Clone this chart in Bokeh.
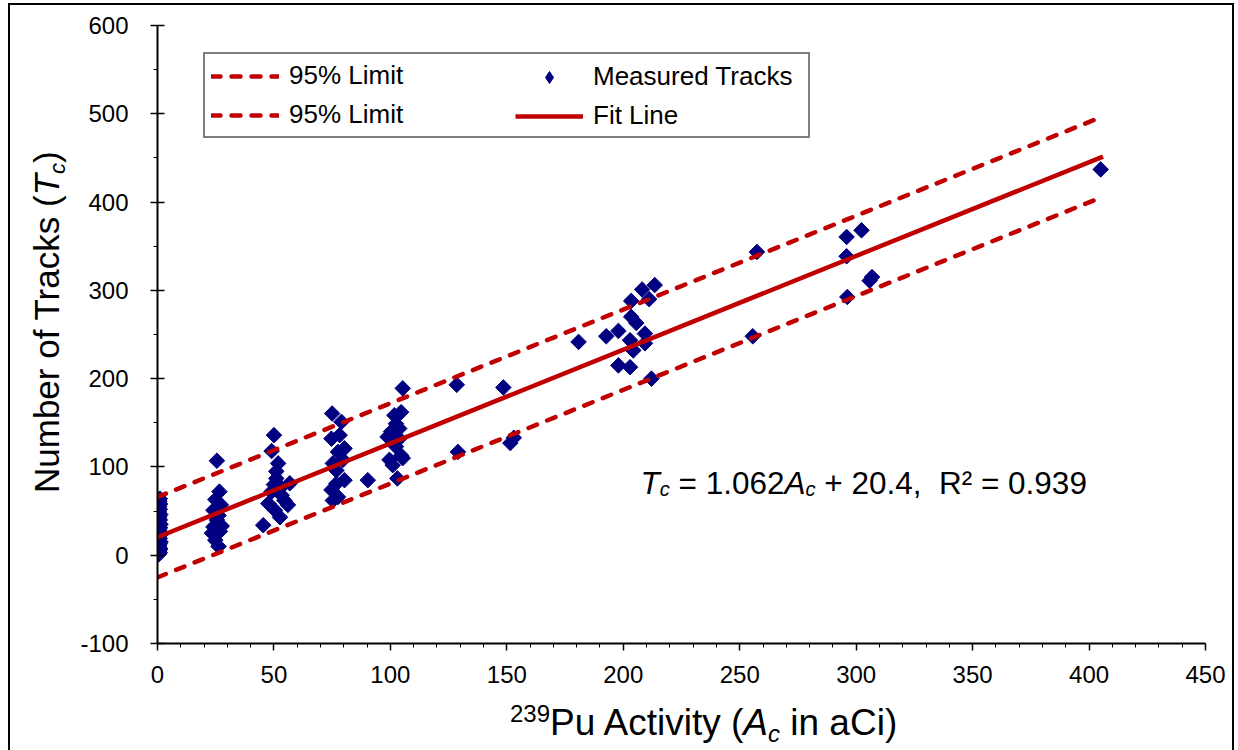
import numpy as np
from bokeh.plotting import figure
from bokeh.layouts import column, row
from bokeh.models import FixedTicker, Label, Legend, LegendItem, Range1d, Div
from bokeh.embed import file_html
from bokeh.resources import INLINE

# ---------------- data ----------------
measured_x = [
    0.5, 1.0, 0.5, 1.2, 0.8, 0.5, 1.0, 1.3, 0.6, 1.0, 0.5, 1.2, 0.8, 1.0,
    0.5, 1.1, 0.7, 1.3, 0.5, 1.0, 0.8, 1.2, 0.6, 1.0, 0.7, 1.1, 0.8, 1.0,
    25.5, 26.6, 24.8, 27.2, 24.0, 26.2, 27.6, 24.0, 23.4, 24.8, 26.2, 25.5, 26.8,
    50.0, 49.0, 51.8, 51.0, 56.8, 49.0, 53.3, 56.0, 47.6, 50.4, 52.6, 45.4,
    51.0, 53.0, 54.5, 50.0,
    75.0, 79.0, 74.7, 78.2, 80.3, 77.5, 75.3, 79.6, 76.8, 80.3, 76.8, 74.7,
    77.5, 75.3, 90.3,
    105.3, 104.6, 101.7, 102.4, 100.3, 103.8, 98.8, 103.8, 102.4, 104.6,
    99.6, 101.0, 103.0, 105.3,
    128.5, 148.5, 129.0, 153.0, 151.5,
    213.5, 208.1, 211.1, 203.4, 203.4, 205.6, 197.9, 192.7, 209.3, 202.9,
    209.3, 204.3, 197.9, 202.9, 212.1, 180.8,
    257.4, 295.9, 302.3, 295.9, 306.8, 305.8, 296.2, 255.6,
    405.0,
]
measured_y = [
    1, 3, 5, 7, 9, 11, 13, 15, 17, 19, 21, 23, 25, 27,
    29, 31, 33, 35, 37, 40, 43, 46, 49, 52, 55, 58, 61, 64,
    107, 72, 63, 57, 51, 45, 33, 32, 25, 17, 10, 40, 27,
    136, 118, 104, 87, 81.5, 72, 68, 57, 58.5, 51, 43, 34,
    95, 77, 62, 80,
    160.5, 151, 132, 136, 121, 117, 104, 108, 96, 85, 81, 74,
    66, 62, 85,
    189, 162, 158.5, 149, 140, 143.5, 134, 132, 123, 113,
    108, 102, 87, 110,
    193, 190, 117, 133, 127,
    306, 301, 290, 288, 270, 263, 254, 248, 251, 243.5,
    240, 232, 215, 213, 200, 241.6,
    343.5, 360.5, 368, 338.6, 315, 311, 292.5, 248,
    437,
]
fit_slope = 1.062
fit_intercept = 20.4
limit_halfwidth = 45.5
fit_x = [0.0, 406.0]

x_ticks = [0, 50, 100, 150, 200, 250, 300, 350, 400, 450]
x_minor = list(range(0, 451, 10))
y_ticks = [-100, 0, 100, 200, 300, 400, 500, 600]
y_minor = list(range(-100, 601, 50))

series_names = ["95% Limit", "95% Limit", "Measured Tracks", "Fit Line"]

# ---------------- derived ----------------
fx = np.array(fit_x)
fit_y = fit_slope * fx + fit_intercept
upper_y = fit_y + limit_halfwidth
lower_y = fit_y - limit_halfwidth

RED = "#C00000"
NAVY = "#000080"
FONT = "Liberation Sans"

# page layout (page pixels)
FL, FR, FT, FB = 157, 1205, 25, 643
kx = (FR - FL) / 450.0
ky = (FB - FT) / 700.0

OX, OY = 10, 5            # inner origin of outer bordered box on page
YT_W = 60                 # width of y-title column
PW, PH = 1222 - YT_W, 695 # plot size
XT_H = 50                 # x-title row height
PX0 = OX + YT_W           # page x of plot's left edge

p = figure(width=PW, height=PH, x_range=Range1d(0, 450), y_range=Range1d(-100, 600),
           output_backend="svg", toolbar_location=None, margin=0,
           min_border_left=FL - PX0, min_border_right=(PX0 + PW) - FR,
           min_border_top=FT - OY, min_border_bottom=(OY + PH) - FB)
p.background_fill_color = "white"
p.border_fill_color = "white"
p.outline_line_color = None
p.xgrid.visible = False
p.ygrid.visible = False

p.xaxis.ticker = FixedTicker(ticks=x_ticks, minor_ticks=x_minor)
p.yaxis.ticker = FixedTicker(ticks=y_ticks, minor_ticks=y_minor)
p.yaxis.major_label_overrides = {t: str(t) for t in y_ticks}
for ax in (p.xaxis[0], p.yaxis[0]):
    ax.axis_line_color = "black"
    ax.axis_line_width = 2
    ax.major_tick_line_color = "black"
    ax.major_tick_line_width = 1.5
    ax.minor_tick_line_color = "black"
    ax.minor_tick_line_width = 1
    ax.major_label_text_font = FONT
    ax.major_label_text_font_size = "24px"
    ax.major_label_text_color = "black"
p.xaxis.major_tick_in = 0
p.xaxis.major_tick_out = 7
p.xaxis.minor_tick_in = 0
p.xaxis.minor_tick_out = 4
p.xaxis.major_label_standoff = 15
p.yaxis.major_tick_in = 7
p.yaxis.major_tick_out = 7
p.yaxis.minor_tick_in = 0
p.yaxis.minor_tick_out = 4
p.yaxis.major_label_standoff = 22

r_pts = p.scatter(measured_x, measured_y, marker="square", angle=np.pi / 4, size=11,
                  fill_color=NAVY, line_color=NAVY)
# renderer used only for the legend swatch (a diamond)
r_pts_key = p.scatter(measured_x, measured_y, marker="diamond", size=14,
                      fill_color=NAVY, line_color=NAVY, visible=False)
r_up = p.line(fx, upper_y, line_color=RED, line_width=4.5, line_dash="9 11", line_cap="round")
r_lo = p.line(fx, lower_y, line_color=RED, line_width=4.5, line_dash="9 11", line_cap="round")
r_fit = p.line(fx, fit_y, line_color=RED, line_width=4.5)

leg_common = dict(glyph_width=68, glyph_height=30, padding=6, spacing=8, label_standoff=10,
                  label_text_font=FONT, label_text_font_size="26px", label_text_color="black",
                  margin=0, inactive_fill_alpha=0)
leg1 = Legend(items=[LegendItem(label=series_names[0], renderers=[r_up]),
                     LegendItem(label=series_names[1], renderers=[r_lo])],
              location=(46, 505), label_width=513, border_line_color="black",
              border_line_width=2, background_fill_color="white", background_fill_alpha=1,
              **leg_common)
leg2 = Legend(items=[LegendItem(label=series_names[2], renderers=[r_pts_key]),
                     LegendItem(label=series_names[3], renderers=[r_fit])],
              location=(358, 512), label_width=200, border_line_color=None,
              background_fill_alpha=0, **leg_common)
p.add_layout(leg1)
p.add_layout(leg2)

WID = {" ": 278, "\u00a0": 278, ".": 278, ",": 278, "=": 584, "+": 584, "(": 333, ")": 333,
       "%": 889, "\u00b2": 333, "A": 667, "C": 722, "L": 556, "M": 833, "N": 722, "P": 667,
       "R": 722, "T": 611, "a": 556, "b": 556, "c": 500, "d": 556, "e": 556, "f": 278,
       "i": 222, "k": 500, "m": 833, "n": 556, "o": 556, "r": 333, "s": 500, "t": 278,
       "u": 556, "v": 500, "y": 500}


def tw(s, size):
    return sum(WID.get(ch, 556) for ch in s) * size / 1000.0


def place(segments, px0, py0):
    adv = 0.0
    for text, size, style, shift in segments:
        stripped = text.lstrip(" ")
        adv += (len(text) - len(stripped)) * 278 * size / 1000.0
        px, py = px0 + adv, py0 + shift
        p.add_layout(Label(x=(px - FL) / kx, y=-100 + (FB - py) / ky, text=stripped,
                           text_font=FONT, text_font_size=f"{size}px", text_font_style=style,
                           text_color="black", text_baseline="alphabetic", text_align="left"))
        adv += tw(stripped, size)


# fit equation
place([("T", 31.5, "italic", 0), ("c", 20, "italic", 6), (" = 1.062", 31.5, "normal", 0),
       ("A", 31.5, "italic", 0), ("c", 20, "italic", 6),
       (" + 20.4,\u00a0 R\u00b2 = 0.939", 31.5, "normal", 0)], 640, 482)

# axis titles as HTML text
base = f"font-family:'{FONT}';color:black;white-space:nowrap;"
# y title: text starts at page (x baseline 62, y 490) running upward
yt_fs = 35
yt_base_off = 0.905 * yt_fs + (yt_fs - 1.117 * yt_fs) / 2
yt_X = (62 - OX) - yt_base_off - 3
yt_Y = 490 - OY + 3
ytitle_html = (
    f"<div style=\"{base}font-size:{yt_fs}px;line-height:{yt_fs}px;width:420px;"
    f"transform-origin:0 0;transform:translate({yt_X:.1f}px,{yt_Y:.1f}px) rotate(-90deg);\">"
    "Number of Tracks (<i>T</i><span style=\"font-size:22px;position:relative;top:6px;"
    "font-style:italic\">c</span>)</div>")
div_y = Div(text=ytitle_html, width=YT_W, height=PH, margin=0,
            styles={"overflow": "visible"})

xt_fs = 37
xt_base_off = 0.905 * xt_fs + (xt_fs - 1.117 * xt_fs) / 2
xt_X = 510 - OX
xt_Y = (738 - (OY + PH)) - xt_base_off - 3
xtitle_html = (
    f"<div style=\"{base}font-size:{xt_fs}px;line-height:{xt_fs}px;"
    f"transform:translate({xt_X:.1f}px,{xt_Y:.1f}px);\">"
    "<span style=\"font-size:24px;position:relative;top:-13px\">239</span>Pu Activity ("
    "<i>A</i><span style=\"font-size:24px;position:relative;top:7px;font-style:italic\">c</span>"
    " in aCi)</div>")
div_x = Div(text=xtitle_html, width=YT_W + PW, height=XT_H, margin=0,
            styles={"overflow": "visible"})

layout = column(row(div_y, p, spacing=0, margin=0), div_x, spacing=0)
layout.styles = {"margin-left": "8px", "margin-top": "3px", "border": "2px solid black",
                 "background-color": "white"}

open("out.html", "w").write(file_html(layout, INLINE))
